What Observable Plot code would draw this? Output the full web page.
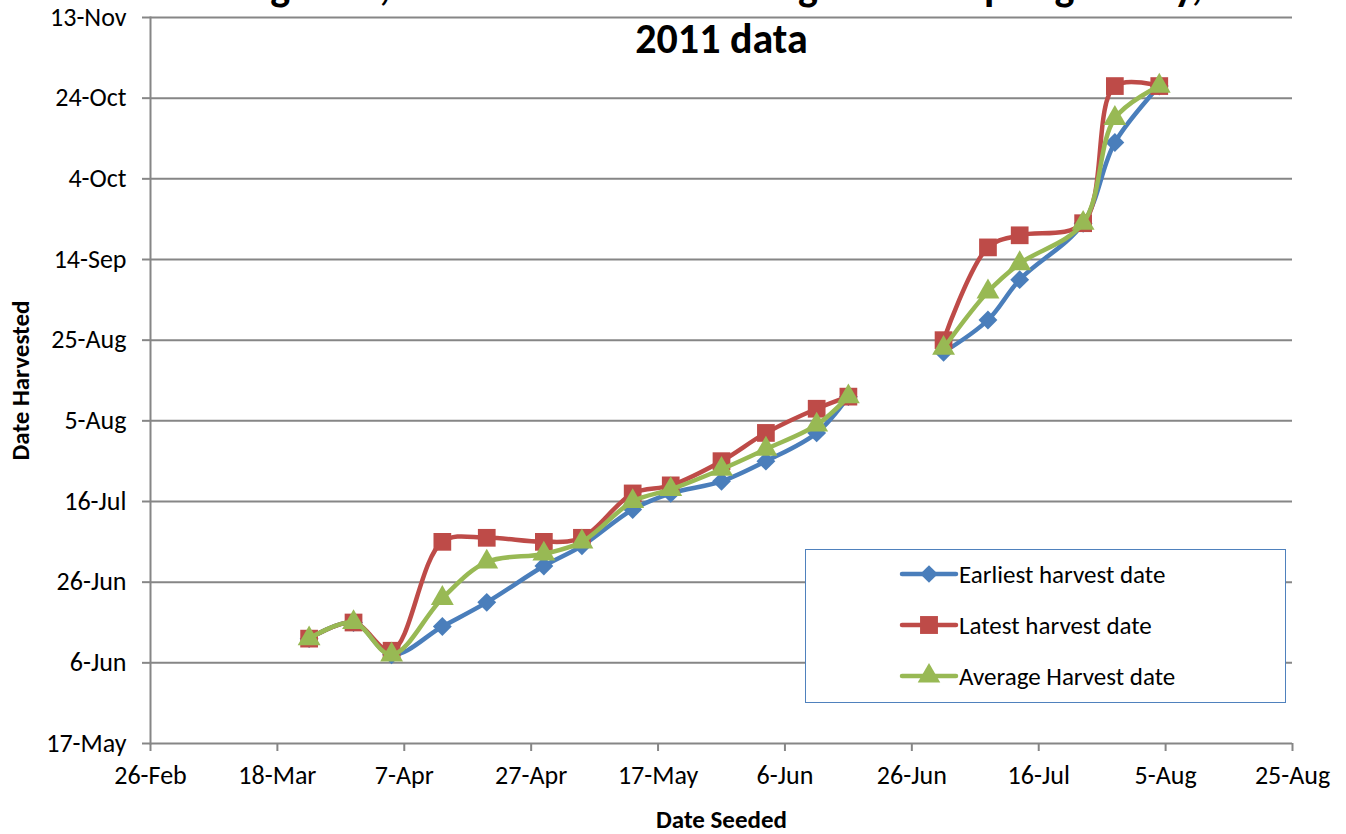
<!DOCTYPE html>
<html>
<head>
<meta charset="utf-8">
<script src="https://cdn.jsdelivr.net/npm/d3@7"></script>
<script src="https://cdn.jsdelivr.net/npm/@observablehq/plot@0.6"></script>
<style>
  html, body { margin: 0; padding: 0; background: #fff; }
  #wrap { position: relative; width: 1346px; height: 834px; overflow: hidden; font-family: Carlito, Calibri, Lato, sans-serif; }
  #legend { position: absolute; left: 805px; top: 549px; width: 479px; height: 152px; border: 1.5px solid #4F81BD; background: #fff; }
  #legend .row { position: absolute; left: 93px; height: 30px; display: flex; align-items: center; font-size: 25px; color: #000; white-space: nowrap; }
  #legend .row svg { display: block; margin-right: 0px; }
</style>
</head>
<body>
<div id="wrap"></div>
<script>
// ---- data ----
const titleText = "Figure 5, Harvest Date vs Seeding Date of Spring Barley,\n2011 data";
const xLabel = "Date Seeded";
const yLabel = "Date Harvested";
const seriesNames = ["Earliest harvest date", "Latest harvest date", "Average Harvest date"];
const seriesColors = ["#4A7EBB", "#BE4B48", "#98B954"];
const seriesSymbols = ["diamond2", "square", "triangle"];

const seeded = ["2011-03-23","2011-03-30","2011-04-05","2011-04-13","2011-04-20","2011-04-29","2011-05-05",
  "2011-05-13","2011-05-19","2011-05-27","2011-06-03","2011-06-11","2011-06-16",
  "2011-07-01","2011-07-08","2011-07-13","2011-07-23","2011-07-28","2011-08-04"];
const plantingGroup = [1,1,1,1,1,1,1,1,1,1,1,1,1, 2,2,2,2,2,2];

const earliest = ["2011-06-12","2011-06-16","2011-06-08","2011-06-15","2011-06-21","2011-06-30","2011-07-05",
  "2011-07-14","2011-07-18","2011-07-21","2011-07-26","2011-08-02","2011-08-11",
  "2011-08-22","2011-08-30","2011-09-09","2011-09-23","2011-10-13","2011-10-27"];
const latest = ["2011-06-12","2011-06-16","2011-06-09","2011-07-06","2011-07-07","2011-07-06","2011-07-07",
  "2011-07-18","2011-07-20","2011-07-26","2011-08-02","2011-08-08","2011-08-11",
  "2011-08-25","2011-09-17","2011-09-20","2011-09-23","2011-10-27","2011-10-27"];
const average = ["2011-06-12","2011-06-16","2011-06-08","2011-06-22","2011-07-01","2011-07-03","2011-07-06",
  "2011-07-16","2011-07-19","2011-07-24","2011-07-29","2011-08-04","2011-08-11",
  "2011-08-23","2011-09-06","2011-09-13","2011-09-23","2011-10-19","2011-10-27"];

const xTickLabels = ["26-Feb","18-Mar","7-Apr","27-Apr","17-May","6-Jun","26-Jun","16-Jul","5-Aug","25-Aug"];
const yTickLabels = ["17-May","6-Jun","26-Jun","16-Jul","5-Aug","25-Aug","14-Sep","4-Oct","24-Oct","13-Nov"];

// ---- build ----
const parseDay = d3.utcParse("%Y-%m-%d");
const parseTick = s => d3.utcParse("%e-%b-%Y")(s + "-2011");
const fmt = d3.utcFormat("%-d-%b");
const xTicks = xTickLabels.map(parseTick);
const yTicks = yTickLabels.map(parseTick);
const seriesValues = [earliest, latest, average];

const rows = [];
seriesNames.forEach((name, s) => {
  seeded.forEach((d, i) => rows.push({
    series: name, group: plantingGroup[i], seeded: parseDay(d), harvested: parseDay(seriesValues[s][i])
  }));
});

const grid = "#868686";
const FONT = "Carlito, Calibri, Lato, sans-serif";
const marks = [
  Plot.gridY(yTicks, {stroke: grid, strokeOpacity: 1, strokeWidth: 2}),
  Plot.frame({anchor: "left", stroke: grid, strokeWidth: 2}),
  Plot.axisY(yTicks, {tickSize: 8, tickPadding: 16, stroke: grid, strokeWidth: 2, fill: "#000", fontSize: 26, tickFormat: fmt, label: null}),
  Plot.axisX(xTicks, {tickSize: 8, tickPadding: 14, stroke: grid, strokeWidth: 2, fill: "#000", fontSize: 26, tickFormat: fmt, label: null}),
  Plot.text([xLabel], {frameAnchor: "bottom", dy: 84, lineAnchor: "bottom", textAnchor: "middle", fontSize: 25, fontWeight: "bold", fill: "#000"}),
  Plot.text([yLabel], {frameAnchor: "left", dx: -130, rotate: -90, textAnchor: "middle", fontSize: 25, fontWeight: "bold", fill: "#000"}),
  Plot.text([titleText], {frameAnchor: "top", dy: 35, lineAnchor: "bottom", textAnchor: "middle", lineHeight: 1.24, fontSize: 42, fontWeight: "bold", fill: "#000"})
];
seriesNames.forEach((name, s) => {
  const data = rows.filter(r => r.series === name);
  marks.push(Plot.line(data, {x: "seeded", y: "harvested", z: "group", curve: "catmull-rom", stroke: seriesColors[s], strokeWidth: 4.5, strokeLinejoin: "round", strokeLinecap: "round"}));
  marks.push(Plot.dot(data, {x: "seeded", y: "harvested", symbol: seriesSymbols[s], r: s === 1 ? 10 : 8.5, fill: seriesColors[s], stroke: "none"}));
});

const chart = Plot.plot({
  width: 1346, height: 834,
  marginLeft: 150, marginRight: 54, marginTop: 17, marginBottom: 91,
  style: {fontFamily: FONT, background: "#fff", overflow: "hidden"},
  x: {type: "utc", domain: [xTicks[0], xTicks[xTicks.length - 1]]},
  y: {type: "utc", domain: [yTicks[0], yTicks[yTicks.length - 1]]},
  marks
});
const wrap = document.getElementById("wrap");
wrap.appendChild(chart);

// ---- legend ----
const legend = document.createElement("div");
legend.id = "legend";
wrap.appendChild(legend);
seriesNames.forEach((name, s) => {
  const row = document.createElement("div");
  row.className = "row";
  row.style.top = (9 + s * 51) + "px";
  const svg = d3.create("svg").attr("width", 60).attr("height", 30);
  svg.append("line").attr("x1", 3).attr("x2", 57).attr("y1", 15).attr("y2", 15)
    .attr("stroke", seriesColors[s]).attr("stroke-width", 4.5).attr("stroke-linecap", "round");
  const sym = [d3.symbolDiamond2, d3.symbolSquare, d3.symbolTriangle][s];
  const size = [200, 320, 220][s];
  svg.append("path").attr("d", d3.symbol(sym, size)()).attr("transform", "translate(30,15)").attr("fill", seriesColors[s]);
  row.appendChild(svg.node());
  const span = document.createElement("span");
  span.textContent = name;
  row.appendChild(span);
  legend.appendChild(row);
});
</script>
</body>
</html>
